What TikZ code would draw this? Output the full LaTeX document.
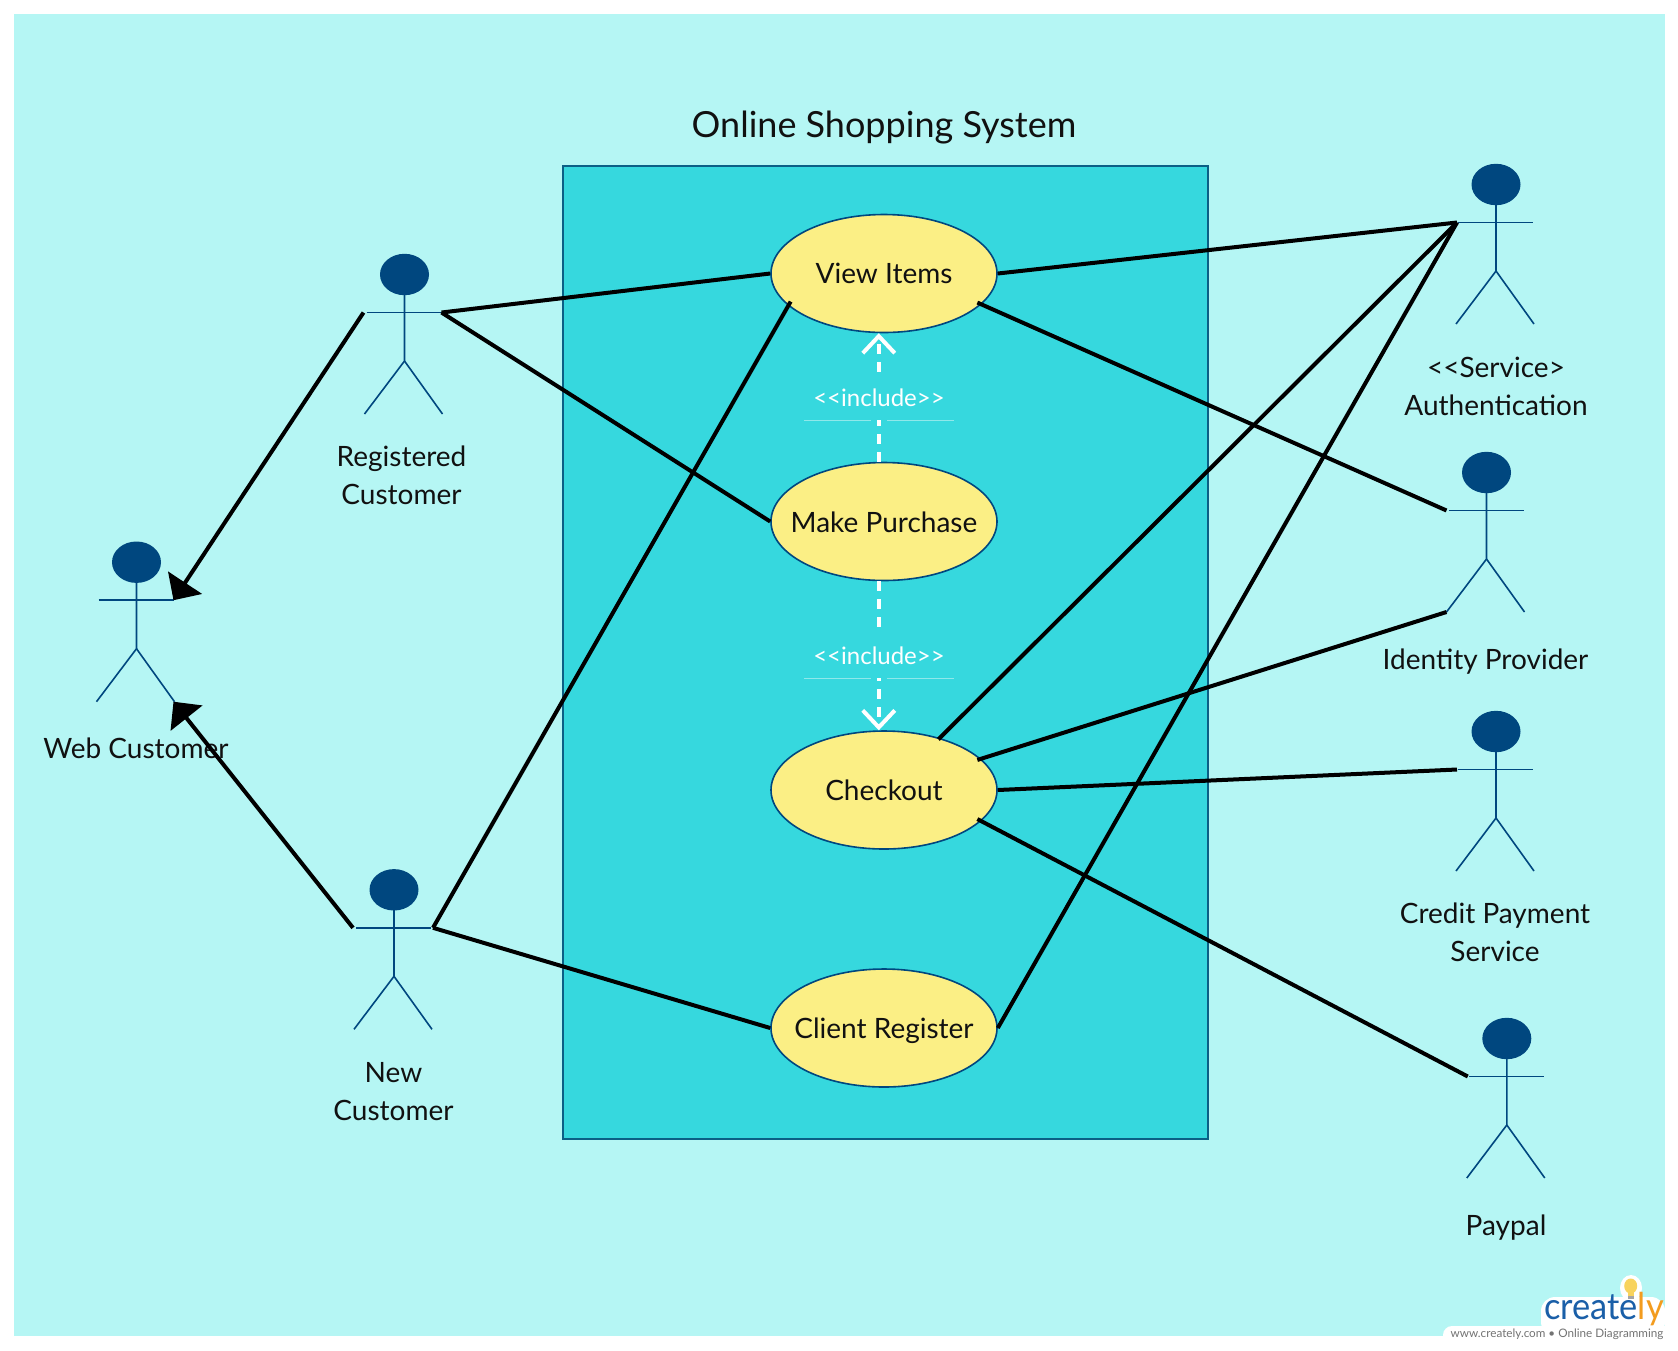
\documentclass[tikz,border=0pt]{standalone}
\usepackage{fontspec}
\setmainfont{Lato}[Ligatures=TeXOff]
\usetikzlibrary{arrows.meta,shapes.geometric}
\definecolor{bgc}{HTML}{B5F6F4}
\definecolor{sysc}{HTML}{36D8DE}
\definecolor{sysb}{HTML}{0B5F85}
\definecolor{ucf}{HTML}{FBEF85}
\definecolor{navy}{HTML}{00477F}
\definecolor{ink}{HTML}{111111}
\definecolor{logob}{HTML}{1A5FA8}
\definecolor{logoo}{HTML}{F39C1F}
\definecolor{bulb}{HTML}{F8D35E}
\definecolor{faint}{HTML}{8FE8EA}
\tikzset{
  x=1pt,y=-1pt,
  usecase/.style={ellipse,draw=navy,line width=1.6pt,fill=ucf,minimum width=226pt,minimum height=118pt,inner sep=0pt},
  uctext/.style={text=ink,inner sep=0pt,font=\fontsize{28}{30}\selectfont},
  lbl/.style={align=center,text=ink,inner sep=0pt,font=\fontsize{28}{38}\selectfont},
  assoc/.style={draw=black,line width=4pt},
  gen/.style={assoc,-{Triangle[length=21pt,width=40pt]}},
  incl/.style={draw=white,line width=4pt,dash pattern=on 10pt off 8pt,-{Straight Barb[length=17pt,width=32pt,line width=4pt]}},
  incllbl/.style={fill=sysc,text=white,inner sep=0pt,minimum height=44pt,font=\fontsize{24}{26}\selectfont},
  thinl/.style={draw=faint,line width=0.8pt},
  actor/.pic={
    \fill[navy] (0,0.5) ellipse [x radius=24.5,y radius=20.7];
    \draw[navy,line width=1.6pt] (0,20) -- (0,87) -- (-40,140);
    \draw[navy,line width=1.6pt] (0,87) -- (38,140);
    \draw[navy,line width=1.6pt] (-38,38.5) -- (37,38.5);
    \coordinate (-la) at (-39,38.5);
    \coordinate (-ra) at (37,38.5);
    \coordinate (-lf) at (-40,140);
    \coordinate (-rf) at (37,140);
  }
}
\begin{document}
\begin{tikzpicture}
\path[use as bounding box,fill=white] (0,0) rectangle (1678,1350);
\fill[bgc] (14,14) rectangle (1665,1336);
\filldraw[fill=sysc,draw=sysb,line width=1.4pt] (563,166) rectangle (1208,1139);
\node[text=ink,inner sep=0pt,font=\fontsize{36}{40}\selectfont] (title) at (884,127.5) {Online Shopping System};

\node[usecase,label={[uctext]center:View Items}] (vi) at (884,273.5) {};
\node[usecase,label={[uctext,yshift=-1pt]center:Make Purchase}] (mp) at (884,521.5) {};
\node[usecase,label={[uctext]center:Checkout}] (co) at (884,790) {};
\node[usecase,label={[uctext,yshift=-3pt]center:Client Register}] (cr) at (884,1028) {};

\pic (reg) at (404.5,274) {actor};
\pic (web) at (136.5,561.7) {actor};
\pic (new) at (394,889.3) {actor};
\pic (auth) at (1496,184) {actor};
\pic (idp) at (1486.5,472) {actor};
\pic (cred) at (1496,731) {actor};
\pic (pay) at (1506.8,1038) {actor};

\node[lbl] (lreg) at (401.5,475.5) {Registered\\Customer};
\node[lbl] (lweb) at (136,748) {Web Customer};
\node[lbl] (lnew) at (393.5,1092) {New\\Customer};
\node[lbl] (lauth) at (1496,386.5) {<<Service>\\Authentication};
\node[lbl] (lidp) at (1485.5,661.5) {Identity Provider};
\node[lbl] (lcred) at (1495,932.5) {Credit Payment\\Service};
\node[lbl] (lpay) at (1506,1228) {Paypal};

\draw[assoc] (reg-ra) -- (vi.west);
\draw[assoc] (reg-ra) -- (mp.west);
\draw[gen] ([xshift=-2pt]reg-la) -- (web-ra);
\draw[gen] ([xshift=-2pt]new-la) -- (web-rf);
\draw[assoc] ([xshift=2pt]new-ra) -- ([shift={(5,-2)}]vi.197);
\draw[assoc] ([xshift=2pt]new-ra) -- (cr.west);
\draw[assoc] (vi.east) -- (auth-la);
\draw[assoc] ([shift={(-5,-1)}]vi.-17.8) -- ([xshift=-1pt]idp-la);
\draw[assoc] ([shift={(-3,1)}]co.42.7) -- (auth-la);
\draw[assoc] ([shift={(-5,0)}]co.17.6) -- (idp-lf);
\draw[assoc] (co.east) -- (cred-la);
\draw[assoc] ([shift={(-5,-1)}]co.-17) -- (pay-la);
\draw[assoc] (cr.east) -- (auth-la);

\draw[incl] (mp.95) -- (vi.265);
\draw[incl] (mp.265) -- (co.95);
\node[incllbl] (inc1) at (879,398) {<<include>>};
\node[incllbl] (inc2) at (879,656) {<<include>>};
\coordinate (t1a) at (804,420); \coordinate (t1b) at (871,420);
\coordinate (t1c) at (887,420); \coordinate (t1d) at (954,420);
\coordinate (t2a) at (804,678); \coordinate (t2b) at (871,678);
\coordinate (t2c) at (887,678); \coordinate (t2d) at (954,678);
\draw[thinl] (t1a) -- (t1b) (t1c) -- (t1d) (t2a) -- (t2b) (t2c) -- (t2d);

% watermark
\fill[white,rounded corners=9pt] (1443,1326) rectangle (1678,1360);
\fill[white,rounded corners=14pt] (1541,1297) rectangle (1665,1336);
\fill[white] (1631,1288) ellipse [x radius=11,y radius=13];
\fill[bulb] (1630.7,1286) ellipse [x radius=6.5,y radius=7.5];
\fill[bulb] (1627.5,1290) rectangle (1634,1296);
\fill[gray!70] (1628,1296) rectangle (1633.5,1299);
\begin{scope}
\clip (1500,1280) rectangle (1665,1345);
\node[anchor=base west,inner sep=0pt,font=\fontsize{37}{40}\selectfont,text=logob] (logo) at (1544,1319) {\scalebox{.93}[1]{create\textcolor{logoo}{ly}}};
\end{scope}
\node[anchor=center,inner sep=0pt,text=black!55,font=\fontsize{11.7}{14}\selectfont] (wm) at (1557,1334) {www.creately.com • Online Diagramming};
\end{tikzpicture}
\end{document}
